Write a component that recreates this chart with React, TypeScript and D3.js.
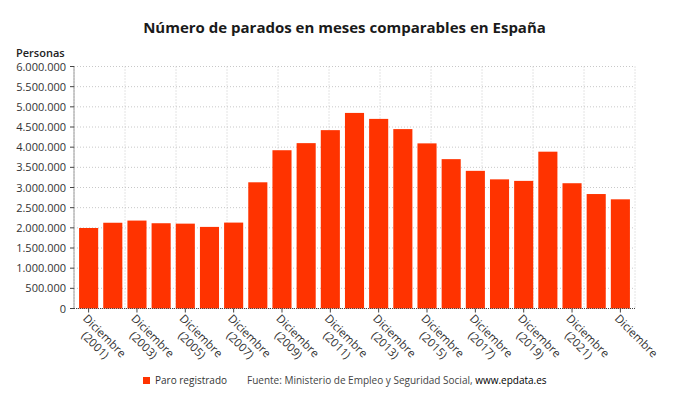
import React from "react";
import * as d3 from "d3";

const years = [2001, 2002, 2003, 2004, 2005, 2006, 2007, 2008, 2009, 2010, 2011, 2012, 2013, 2014, 2015, 2016, 2017, 2018, 2019, 2020, 2021, 2022, 2023];
const paro = [1996000, 2126000, 2180000, 2114000, 2104000, 2023000, 2130000, 3129000, 3924000, 4100000, 4422000, 4849000, 4701000, 4448000, 4094000, 3703000, 3413000, 3202000, 3164000, 3888000, 3106000, 2838000, 2707000];
const yTicks = [0, 500000, 1000000, 1500000, 2000000, 2500000, 3000000, 3500000, 4000000, 4500000, 5000000, 5500000, 6000000];
const title = "Número de parados en meses comparables en España";
const seriesName = "Paro registrado";
const yTitle = "Personas";

const W = 690, H = 405;
const left = 74, right = 635, top = 66.5, bottom = 308.5;
const FONT = "'Open Sans', 'Noto Sans', sans-serif";
const BAR = "#ff3300";

const fmt = (v: number) => d3.format(",")(v).replace(/,/g, ".");

export default function App() {
  const x = d3.scaleBand<number>().domain(years).range([left, right]).padding(0.21);
  const y = d3.scaleLinear().domain([0, 6000000]).range([bottom, top]);
  const gx = d3.scaleLinear().domain([0, 11]).range([left, right]);
  const vGrid = d3.range(12).map((i) => gx(i));
  const bw = x.bandwidth();

  return (
    <svg width={W} height={H} style={{ position: "absolute", left: 0, top: 0, background: "#fff" }} fontFamily={FONT}>
      <rect x={0} y={0} width={W} height={H} fill="#fff" />
      <text x={344.5} y={33} textAnchor="middle" fontSize={15} fontWeight={700} fill="#1a1a1a">{title}</text>
      <text x={16} y={57} fontSize={11} fontWeight={600} fill="#222">{yTitle}</text>

      {/* grid */}
      {yTicks.map((t) => (
        <line key={"h" + t} x1={left} x2={right} y1={y(t)} y2={y(t)} stroke="#c8c8c8" strokeDasharray="1,2" />
      ))}
      {vGrid.map((gxv, i) => (
        <line key={"v" + i} x1={gxv} x2={gxv} y1={top} y2={bottom} stroke="#c8c8c8" strokeDasharray="1,2" />
      ))}

      {/* bars */}
      {years.map((yr, i) => (
        <rect key={yr} x={x(yr)} y={y(paro[i])} width={bw} height={y(0) - y(paro[i])} fill={BAR} />
      ))}

      {/* y axis */}
      <line x1={left} x2={left} y1={top} y2={bottom} stroke="#444" strokeDasharray="1,1" />
      {yTicks.map((t) => (
        <g key={"yt" + t}>
          <line x1={left - 4} x2={left} y1={y(t)} y2={y(t)} stroke="#444" />
          <text x={66} y={y(t) + 4} textAnchor="end" fontSize={11} fill="#333">{fmt(t)}</text>
        </g>
      ))}

      {/* x axis */}
      <line x1={left} x2={right} y1={bottom} y2={bottom} stroke="#444" strokeDasharray="1,1" />
      {years.map((yr, i) => {
        if (i % 2 !== 0) return null;
        const cx = (x(yr) as number) + bw / 2;
        const last = i === years.length - 1;
        return (
          <g key={"xl" + yr}>
            <line x1={cx} x2={cx} y1={bottom} y2={bottom + 4} stroke="#444" />
            <g transform={`translate(${cx - 6.8},319) rotate(45)`}>
              <text textAnchor="middle" fontSize={11.5} fill="#333">
                <tspan x={28} y={0}>Diciembre</tspan>
                {!last && <tspan x={28} dy={13}>({yr})</tspan>}
              </text>
            </g>
          </g>
        );
      })}

      {/* legend */}
      <rect x={143} y={377} width={7} height={7} fill={BAR} />
      <text x={155} y={384} fontSize={10} fill="#333">{seriesName}</text>
      <text x={247} y={384} fontSize={10} fill="#444">
        Fuente: Ministerio de Empleo y Seguridad Social, <tspan fill="#000">www.epdata.es</tspan>
      </text>
    </svg>
  );
}
